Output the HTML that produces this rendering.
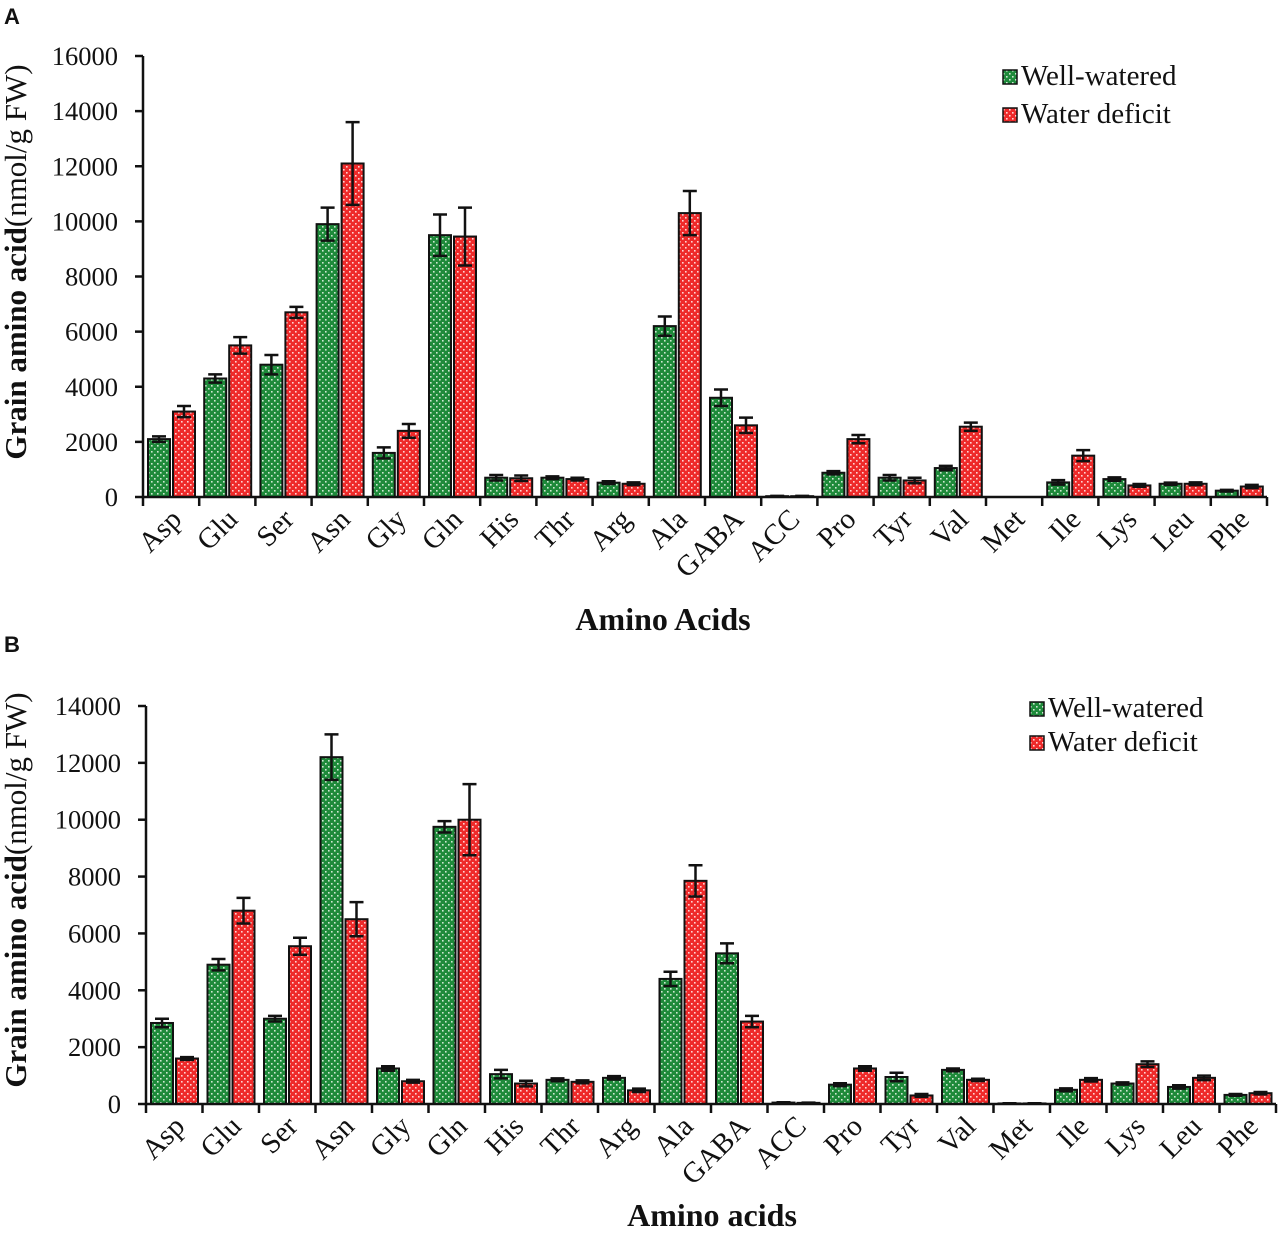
<!DOCTYPE html>
<html><head><meta charset="utf-8"><style>
body{margin:0;background:#fff}
svg text{font-family:"Liberation Serif",serif;fill:#111}
.pl{font-family:"Liberation Sans",sans-serif;font-weight:bold;font-size:22px}
</style></head><body>
<svg id="chart" width="1279" height="1228" viewBox="0 0 1279 1228" xmlns="http://www.w3.org/2000/svg">
<defs>
<pattern id="pg" width="6" height="6" patternUnits="userSpaceOnUse"><rect width="6" height="6" fill="#1e8a3a"/><rect x="1" y="1" width="1.6" height="1.6" fill="#cfe8d2"/><rect x="4" y="4" width="1.6" height="1.6" fill="#cfe8d2"/></pattern>
<pattern id="pr" width="6" height="6" patternUnits="userSpaceOnUse"><rect width="6" height="6" fill="#ee2a2a"/><rect x="1" y="1" width="1.6" height="1.6" fill="#ffd5d5"/><rect x="4" y="4" width="1.6" height="1.6" fill="#ffd5d5"/></pattern>
</defs>
<text class="pl" x="4" y="24">A</text>
<text class="pl" x="4" y="652">B</text>
<g id="pa"></g>
<g id="pb"></g>
</svg>
<script>
const categories=["Asp","Glu","Ser","Asn","Gly","Gln","His","Thr","Arg","Ala","GABA","ACC","Pro","Tyr","Val","Met","Ile","Lys","Leu","Phe"];
const aWell=[2100,4300,4800,9900,1600,9500,700,700,520,6200,3600,30,880,700,1050,0,530,650,480,230];
const aDef=[3100,5500,6700,12100,2400,9450,680,650,480,10300,2600,30,2100,600,2550,0,1500,420,480,380];
const aWellErr=[100,150,350,600,200,750,100,50,50,350,300,10,60,100,80,0,80,60,40,30];
const aDefErr=[200,300,200,1500,250,1050,100,50,50,800,280,10,150,100,150,0,200,50,50,60];
const aTicks=[0,2000,4000,6000,8000,10000,12000,14000,16000];
const bWell=[2850,4900,3000,12200,1250,9750,1050,850,920,4400,5300,50,680,950,1200,20,500,720,600,320];
const bDef=[1600,6800,5550,6500,800,10000,720,780,480,7850,2900,40,1250,300,850,20,850,1400,920,380];
const bWellErr=[150,200,100,800,80,200,150,50,60,250,350,10,50,150,50,5,50,40,60,30];
const bDefErr=[50,450,300,600,50,1250,100,50,60,550,200,10,80,50,40,5,60,100,80,40];
const bTicks=[0,2000,4000,6000,8000,10000,12000,14000];
const NS="http://www.w3.org/2000/svg";
function mk(p,tag,at,txt){const e=document.createElementNS(NS,tag);for(const k in at)e.setAttribute(k,at[k]);if(txt!==undefined)e.textContent=txt;p.appendChild(e);return e;}
function panel(g,o){
  const y=v=>o.y0-(v/o.max)*(o.y0-o.yTop);
  const x=i=>o.x0+i*o.step;
  o.ticks.forEach(t=>{
    const l=mk(g,'line',{x1:o.x0-8,x2:o.x0,y1:y(t),y2:y(t),stroke:'#111','stroke-width':2.5});
    
    
    const tx=mk(g,'text',{x:o.x0-25,y:y(t)+9,'text-anchor':'end','font-size':26.5},t);
    
    
  });
  categories.forEach((c,i)=>{
    const series=[[o.w[i],o.we[i],'url(#pg)'],[o.d[i],o.de[i],'url(#pr)']];
    series.forEach((s,j)=>{
      const bx=x(i)+5+j*25,bw=22;
      const r=mk(g,'rect',{x:bx,y:y(s[0]),width:bw,height:o.y0-y(s[0]),fill:s[2],stroke:'#111','stroke-width':2});
      
      
      if(s[0]>0){
        const cx=bx+bw/2,t=y(s[0]+s[1]),b=y(Math.max(0,s[0]-s[1]));
        const e=mk(g,'path',{d:`M${cx-7},${t}H${cx+7}M${cx},${t}V${b}M${cx-7},${b}H${cx+7}`,stroke:'#111','stroke-width':2.5,fill:'none'});
        
        
      }
    });
    const lb=mk(g,'text',{transform:`translate(${x(i)+o.step/2+12},${o.y0+24}) rotate(-45)`,'text-anchor':'end','font-size':29},c);
    
    
  });
  for(let i=0;i<=categories.length;i++){
    const l=mk(g,'line',{x1:x(i),x2:x(i),y1:o.y0,y2:o.y0+9,stroke:'#111','stroke-width':2.5});
    
    
  }
  const ax=mk(g,'path',{d:`M${o.x0},${o.yTop}V${o.y0}H${x(categories.length)}`,stroke:'#111','stroke-width':2.5,fill:'none'});
  
  
  const yl=mk(g,'text',{transform:`translate(26,${o.yc}) rotate(-90)`,'text-anchor':'middle','font-size':31});
  
  
  mk(yl,'tspan',{'font-weight':'bold'},'Grain amino acid');mk(yl,'tspan',{},'(nmol/g FW)');
  const xl=mk(g,'text',{x:o.xt,y:o.xty,'text-anchor':'middle','font-size':32,'font-weight':'bold'},o.xtitle);
  
  
  [['url(#pg)','Well-watered',0],['url(#pr)','Water deficit',1]].forEach(([f,t,k])=>{
    const ly=o.ly+k*o.lsp;
    const r=mk(g,'rect',{x:o.lx,y:ly-14,width:14,height:14,fill:f,stroke:'#111','stroke-width':1.5});
    
    
    const tx=mk(g,'text',{x:o.lx+18,y:ly+1,'font-size':29},t);
    
    
  });
}
panel(document.getElementById('pa'),{x0:143,step:56.2,y0:497,yTop:56,max:16000,ticks:aTicks,w:aWell,d:aDef,we:aWellErr,de:aDefErr,yc:262,xt:663,xty:630,xtitle:'Amino Acids',lx:1003,ly:84,lsp:38});
panel(document.getElementById('pb'),{x0:146,step:56.5,y0:1104,yTop:706,max:14000,ticks:bTicks,w:bWell,d:bDef,we:bWellErr,de:bDefErr,yc:890,xt:712,xty:1226,xtitle:'Amino acids',lx:1030,ly:716,lsp:34});
</script>
</body></html>
